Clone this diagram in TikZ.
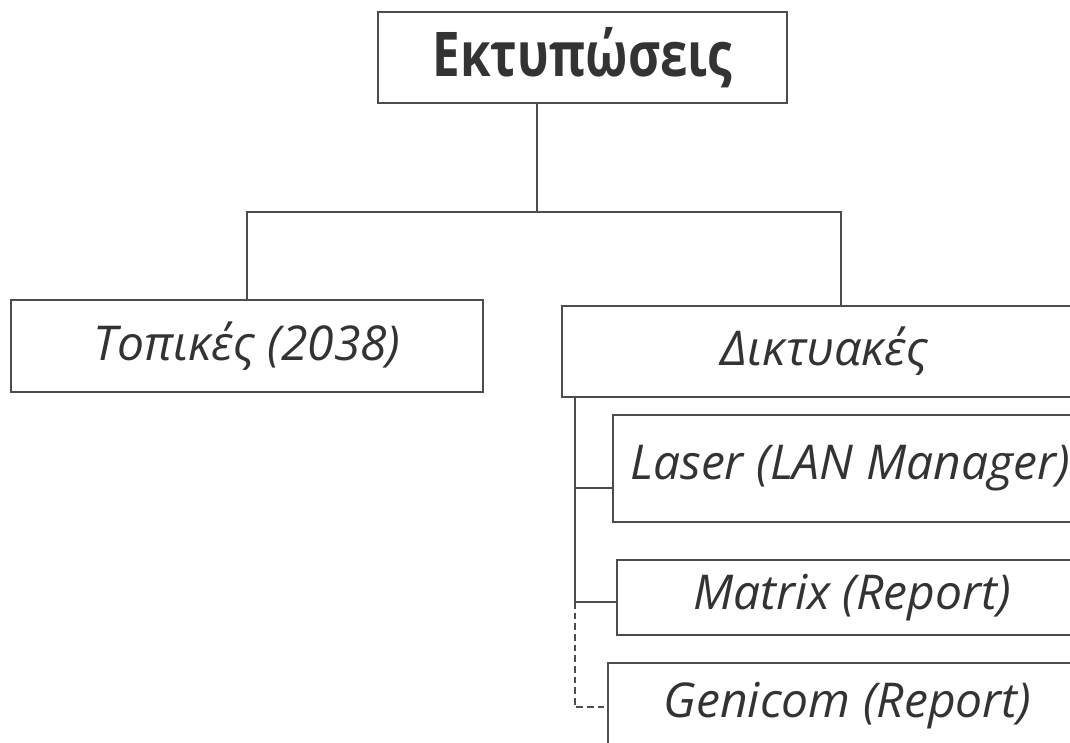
\documentclass[tikz,border=0pt]{standalone}
\usepackage{fontspec}
\setmainfont{Open Sans}
\usetikzlibrary{calc}

\begin{document}
\begin{tikzpicture}[x=0.75pt,y=-0.75pt,
    box/.style={draw=black!70,line width=0.9pt,rectangle,inner sep=0pt,text=black!80,
      font=\itshape\fontsize{36}{42}\selectfont},
    link/.style={draw=black!70,line width=1.3pt}]
        \path[use as bounding box] (0,0) rectangle (1070,742);
        \clip (0,0) rectangle (1070,742);
        \node[box,minimum width=409*0.75pt,minimum height=91*0.75pt,
          font=\bfseries\fontsize{37}{44}\selectfont] (top) at (582.5,57.5) {\scalebox{1}[1.25]{Εκτυπώσεις}};
        \node[box,minimum width=472*0.75pt,minimum height=92*0.75pt] (local) at (247,346) {Τοπικές (2038)};
        \node[box,minimum width=525*0.75pt,minimum height=91*0.75pt] (net) at (824.5,351.5) {Δικτυακές};
        \node[box,minimum width=474*0.75pt,minimum height=107*0.75pt] (laser) at (850,468.5) {Laser (LAN Manager)};
        \node[box,minimum width=470*0.75pt,minimum height=75*0.75pt] (matrix) at (852,597.5) {Matrix (Report)};
        \node[box,minimum width=479*0.75pt,minimum height=85*0.75pt] (genicom) at (847.5,705.5) {Genicom (Report)};
        \coordinate (split) at (537,212);
        \coordinate (trunk) at (575,602);
        \draw[link] ($(top.south west)!.389!(top.south east)$) -- (split);
        \draw[link] (local.north) |- (split) -| ($(net.north west)!.531!(net.north east)$);
        \draw[link] (net.south -| trunk) -- (trunk);
        \draw[link] ($(laser.north west)!.68!(laser.south west)$) -| (trunk);
        \draw[link] (trunk) -- (matrix.west |- trunk);
        \draw[link,dash pattern=on 5pt off 3pt] (trunk) |- ($(genicom.north west)!.52!(genicom.south west)$);
\end{tikzpicture}
\end{document}
